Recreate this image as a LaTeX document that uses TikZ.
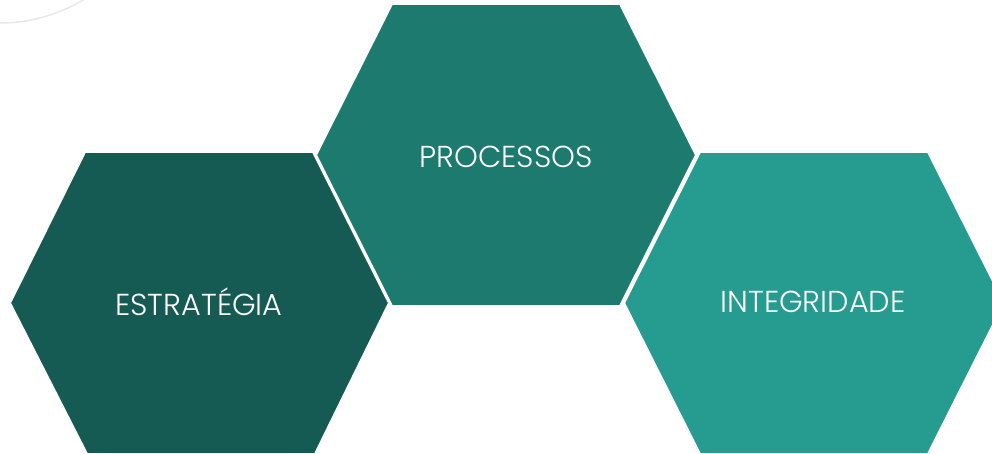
\documentclass[tikz,border=0pt]{standalone}
\usepackage{fontspec}
\setmainfont{Poppins}[UprightFont=* Light]
\definecolor{hexdark}{HTML}{165B53}
\definecolor{hexmid}{HTML}{1C7A6F}
\definecolor{hexlight}{HTML}{269C90}
\definecolor{arcgray}{HTML}{E8E8E8}

\begin{document}
\begin{tikzpicture}[
  x=1pt, y=-1pt,
  every node/.style={align=center},
  hexa/.style={draw=white, line width=2pt, line join=miter},
  label/.style={text=white, font=\fontsize{30.3}{33}\selectfont}
]
\useasboundingbox (0,0) rectangle (992,454);

% Decorative arc
\draw[arcgray, line width=1.5pt] (0,23) arc[start angle=90, end angle=50, radius=161];

% Estrategia
\filldraw[hexa, fill=hexdark] (10,303) -- (85,152) -- (313,152) -- (389,303) -- (315,454) -- (87,454) -- cycle;
\node[label] (estrategia) at (199,302) {ESTRATÉGIA};

% Processos
\filldraw[hexa, fill=hexmid] (316,155) -- (392,4) -- (620,4) -- (696,155) -- (620,306) -- (392,306) -- cycle;
\node[label] (processos) at (506,157) {PROCESSOS};

% Integridade
\filldraw[hexa, fill=hexlight] (624,303) -- (700,152) -- (928,152) -- (1004,303) -- (928,454) -- (700,454) -- cycle;
\node[label] (integridade) at (813,302) {INTEGRIDADE};

\end{tikzpicture}
\end{document}
